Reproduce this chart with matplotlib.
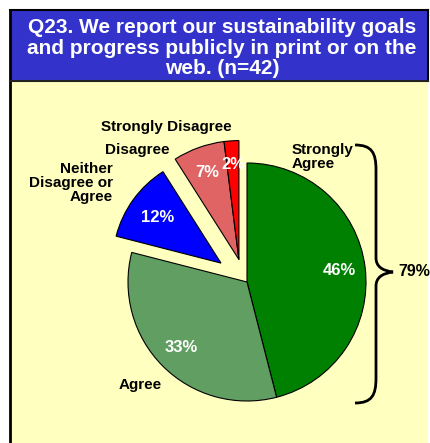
import matplotlib.pyplot as plt
from matplotlib.patches import Rectangle, PathPatch
from matplotlib.path import Path
import numpy as np

plt.rcParams['font.family'] = ['Liberation Sans', 'DejaVu Sans']

categories = ['Strongly\nAgree', 'Agree', 'Neither\nDisagree or\nAgree', 'Disagree', 'Strongly Disagree']
values = [46, 33, 12, 7, 2]
colors = ['#008000', '#619e61', '#0000ff', '#e06464', '#ff0000']
explode = [0, 0, 0.27, 0.2, 0.2]
agree_total = '79%'
title = 'Q23. We report our sustainability goals\nand progress publicly in print or on the\nweb. (n=42)'

W, H = 430, 443
fig = plt.figure(figsize=(W / 100, H / 100), dpi=100)
ax = fig.add_axes([0, 0, 1, 1])

# panel background and title band (y measured from top)
ax.add_patch(Rectangle((10, 0), 418, H - 81, facecolor='#ffffc0', edgecolor='none'))
ax.add_patch(Rectangle((10, H - 81), 418, 71, facecolor='#3333cc', edgecolor='none'))
ax.plot([10, 10], [0, H - 10], color='black', lw=2)
ax.plot([10, 428], [H - 10, H - 10], color='black', lw=1.5)
ax.plot([428, 428], [H - 81, H - 10], color='black', lw=1.5)
ax.plot([10, 428], [H - 81, H - 81], color='#222222', lw=1.5)
ax.text(222, H - 48, title, ha='center', va='center', color='white',
        fontsize=15, fontweight='bold', linespacing=1.12)

cx, cy, r = 247, H - 282, 119
wedges, texts, pcts = ax.pie(values, colors=colors, explode=[e * r for e in explode],
                             startangle=90, counterclock=False, center=(cx, cy), radius=r,
                             autopct='%d%%', pctdistance=0.78,
                             wedgeprops=dict(edgecolor='black', linewidth=0.8),
                             textprops=dict(color='white', fontsize=12, fontweight='bold'))


def mid_point(w, frac):
    a = np.deg2rad((w.theta1 + w.theta2) / 2)
    c = w.center
    return (c[0] + frac * w.r * np.cos(a), c[1] + frac * w.r * np.sin(a))


# neither slice drawn a little smaller, as in the original
wedges[2].set_radius(0.91 * r)
pcts[2].set_position(mid_point(wedges[2], 0.72))

# the two disagree slices are pulled out together
wedges[4].set_center(wedges[3].center)
pcts[4].set_position(mid_point(wedges[4], 0.8))

# category labels
fs = 11
ax.text(292, H - 157, categories[0], ha='left', va='center', fontsize=fs, fontweight='bold', linespacing=0.95)
ax.text(140, H - 385, categories[1], ha='center', va='center', fontsize=fs, fontweight='bold')
ax.text(113, H - 183, categories[2], ha='right', va='center', fontsize=fs, fontweight='bold', linespacing=1.0)
ax.text(137, H - 150, categories[3], ha='center', va='center', fontsize=fs, fontweight='bold')
ax.text(166, H - 127, categories[4], ha='center', va='center', fontsize=fs, fontweight='bold')

# curly brace grouping the agree slices
top, bot, mid, xl, xr = H - 145, H - 403, H - 272, 376, 393
verts = [(355, top), (372, top), (xl, top - 8), (xl, top - 25),
         (xl, mid + 14), (xl, mid + 2), (xr, mid),
         (xl, mid - 2), (xl, mid - 14),
         (xl, bot + 25), (xl, bot + 8), (372, bot), (355, bot)]
codes = [Path.MOVETO, Path.CURVE4, Path.CURVE4, Path.CURVE4,
         Path.LINETO, Path.CURVE3, Path.CURVE3,
         Path.CURVE3, Path.CURVE3,
         Path.LINETO, Path.CURVE4, Path.CURVE4, Path.CURVE4]
ax.add_patch(PathPatch(Path(verts, codes), facecolor='none', edgecolor='black', lw=2))
ax.text(398, mid, agree_total, ha='left', va='center', fontsize=11.5, fontweight='bold')

ax.set_xlim(0, W)
ax.set_ylim(0, H)
ax.set_aspect('equal')
ax.axis('off')
fig.savefig('out.png', dpi=100, facecolor='white')
